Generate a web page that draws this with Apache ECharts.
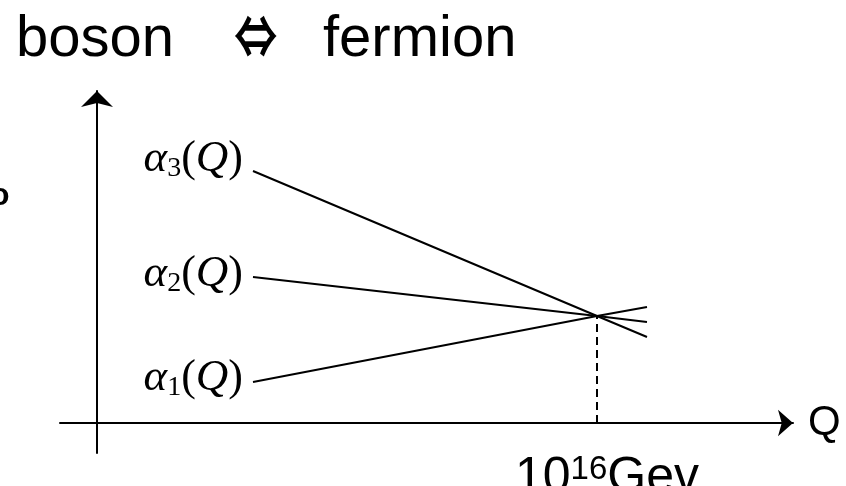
<!DOCTYPE html>
<html>
<head>
<meta charset="utf-8">
<style>
  html, body { margin: 0; padding: 0; background: #fff; }
  #main { width: 846px; height: 486px; }
</style>
<script src="https://cdn.jsdelivr.net/npm/echarts@6/dist/echarts.min.js"></script>
</head>
<body>
<div id="main"></div>
<script>
// coupling constants (x: energy scale, y: strength)
var alpha1 = [[156, 41], [500, 107], [550, 116]];
var alpha2 = [[156, 146], [500, 107], [550, 101]];
var alpha3 = [[156, 252], [500, 107], [550, 86]];
var unify = [[500, 0], [500, 107]];
var tickValues = [500];
var names = ['1', '2', '3'];

var chart = echarts.init(document.getElementById('main'));

function alphaLabel(idx, dy) {
	return {
		show: true,
		position: 'left',
		distance: 10,
		offset: [0, dy],
		formatter: '{a|α}{s|' + names[idx] + '}{p|(}{q|Q}{p|)}',
		rich: {
			a: { fontFamily: 'Liberation Serif', fontStyle: 'italic', fontSize: 45, color: '#000' },
			s: { fontFamily: 'Liberation Serif', fontSize: 28, color: '#000', verticalAlign: 'bottom', lineHeight: 27 },
			p: { fontFamily: 'Liberation Serif', fontSize: 44, color: '#000', lineHeight: 48 },
			q: { fontFamily: 'Liberation Serif', fontStyle: 'italic', fontSize: 45, color: '#000' }
		}
	};
}

function lineSeries(data, idx, dy) {
	var pts = data.map(function (d, i) {
		if (i === 0) return { value: d, label: alphaLabel(idx, dy) };
		return { value: d };
	});
	return {
		type: 'line',
		data: pts,
		symbolSize: 0,
		showSymbol: true,
		lineStyle: { color: '#000', width: 2 },
		itemStyle: { color: '#000' },
		silent: true
	};
}

var option = {
	animation: false,
	backgroundColor: '#fff',
	grid: { left: 60, right: 53, top: 91, bottom: 33, outerBoundsMode: 'none', containLabel: false },
	xAxis: {
		type: 'value',
		min: -37,
		max: 696,
		splitLine: { show: false },
		axisTick: { show: false },
		axisLine: {
			onZero: true,
			symbol: ['none', 'arrow'],
			symbolSize: [20, 15],
			lineStyle: { color: '#000', width: 2 }
		},
		axisLabel: {
			customValues: tickValues,
			margin: 0,
			padding: [0, 0, 0, 20],
			formatter: function () { return '{n|10}{s|16}{n|Gev}'; },
			rich: {
				n: { fontFamily: 'Liberation Sans', fontSize: 50, color: '#000', lineHeight: 50 },
				s: { fontFamily: 'Liberation Sans', fontSize: 33, color: '#000', verticalAlign: 'top', lineHeight: 33 }
			}
		},
		name: 'Q',
		nameLocation: 'end',
		nameGap: 15,
		nameTextStyle: { fontFamily: 'Liberation Sans', fontSize: 42, color: '#000', verticalAlign: 'middle' }
	},
	yAxis: {
		type: 'value',
		min: -30,
		max: 332,
		splitLine: { show: false },
		axisTick: { show: false },
		axisLabel: { show: false },
		axisLine: {
			onZero: true,
			symbol: ['none', 'arrow'],
			symbolSize: [24, 16],
			lineStyle: { color: '#000', width: 2 }
		}
	},
	graphic: [
		{ type: 'text', x: 16, y: 40, style: { text: 'boson', font: '58px "Liberation Sans"', fill: '#000', verticalAlign: 'middle' } },
		{ type: 'text', x: 234, y: 36, scaleX: 0.75, style: { text: '⇔', font: 'bold 58px "Noto Sans CJK JP"', fill: '#000', verticalAlign: 'middle' } },
		{ type: 'text', x: 323, y: 40, style: { text: 'fermion', font: '58px "Liberation Sans"', fill: '#000', verticalAlign: 'middle' } },
		{ type: 'text', x: -10, y: 196, style: { text: 'o', font: 'bold 32px "Liberation Sans"', fill: '#000', verticalAlign: 'middle' } }
	],
	series: [
		lineSeries(alpha3, 2, -12),
		lineSeries(alpha2, 1, -3),
		lineSeries(alpha1, 0, -4),
		{
			type: 'line',
			data: unify,
			symbol: 'none',
			lineStyle: { color: '#000', width: 2, type: [8, 5] },
			silent: true
		}
	]
};

chart.setOption(option);
</script>
</body>
</html>
